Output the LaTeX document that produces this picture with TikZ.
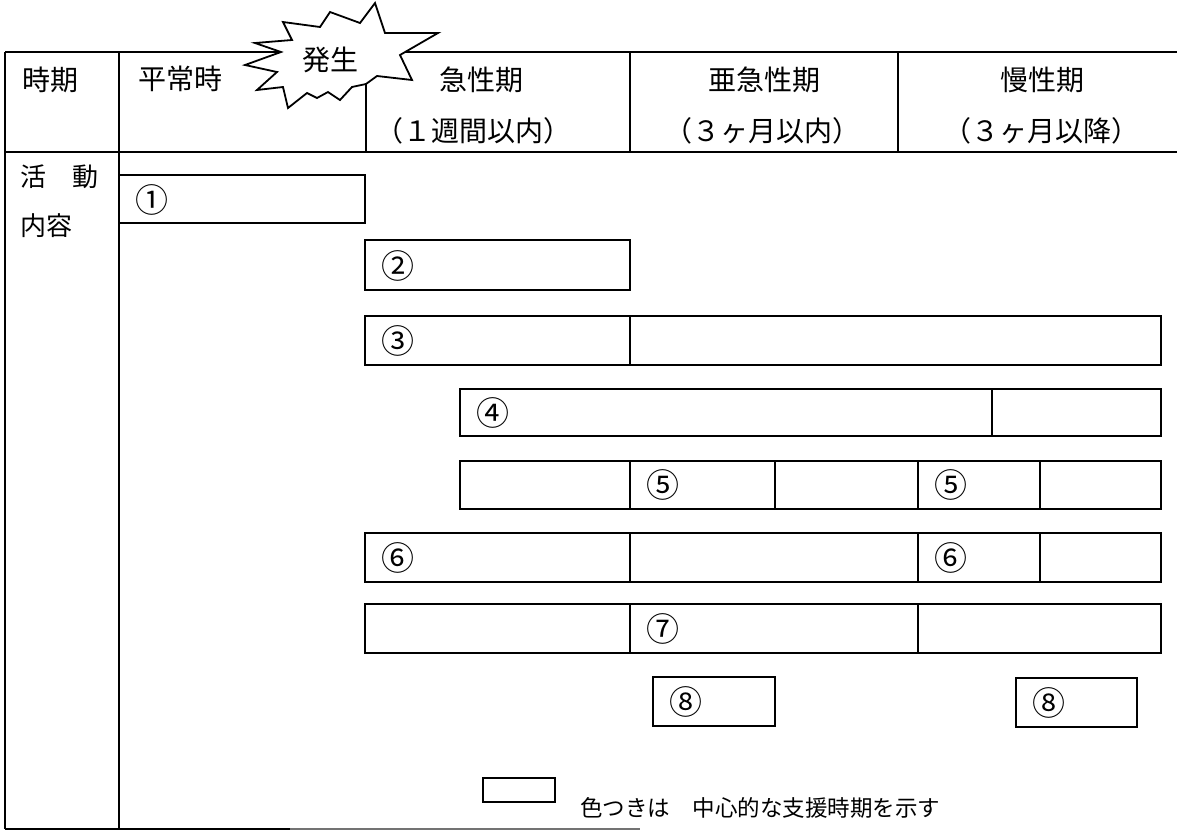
\documentclass[tikz,border=0pt]{standalone}
\usepackage{fontspec}
\setmainfont{Noto Sans CJK JP}
\tikzset{
  seg/.style={draw, line width=1.8pt, inner sep=0pt, outer sep=0pt, anchor=north west},
  num/.style={inner sep=0pt, anchor=west, font=\fontsize{33}{36}\selectfont},
  head/.style={inner sep=0pt, font=\fontsize{28}{32}\selectfont},
  rule/.style={line width=2pt},
}
\newcommand{\segbox}[5]{\node[seg, minimum width={#4-#2}, minimum height={#5-#3}] (#1) at (#2,#3) {};}
\begin{document}
\begin{tikzpicture}[x=1pt,y=-1pt]
\useasboundingbox (0,0) rectangle (1177,831);
% table frame
\draw[rule] (5,52) -- (1177,52);
\draw[rule] (5,152) -- (1177,152);
\draw[rule] (5,52) -- (5,829);
\draw[rule] (119,52) -- (119,829);
\draw[rule] (366,52) -- (366,152);
\draw[rule] (630,52) -- (630,152);
\draw[rule] (898,52) -- (898,152);
\draw[rule] (5,829) -- (290,829);
\draw[line width=1.2pt, black!55] (290,829) -- (640,829);
% starburst
\draw[line width=1.8pt, fill=white, line join=miter]
 (375,3) -- (385,33) -- (438,33) -- (400,55) -- (412,80) -- (377,76) -- (366,84) -- (352,87)
 -- (340,100) -- (328,92) -- (317,98) -- (307,93) -- (288,108) -- (283,87) -- (257,90)
 -- (277,72) -- (245,65) -- (281,52) -- (255,43) -- (292,40) -- (283,22) -- (320,27)
 -- (330,12) -- (360,23) -- cycle;
\node[head] (hassei) at (330,60) {発生};
% header texts
\node[head] (jiki) at (50,80) {時期};
\node[head] (heijo) at (180,79) {平常時};
\node[head] (kyusei) at (481,80) {急性期};
\node[head] (kyuseisub) at (473,131) {（１週間以内）};
\node[head] (akyusei) at (764,80) {亜急性期};
\node[head] (akyuseisub) at (762,131) {（３ヶ月以内）};
\node[head] (mansei) at (1042,80) {慢性期};
\node[head] (manseisub) at (1041,131) {（３ヶ月以降）};
\node[head, anchor=west, font=\fontsize{26}{30}\selectfont] (katsudo) at (20,177) {活　動};
\node[head, anchor=west, font=\fontsize{26}{30}\selectfont] (naiyo) at (20,226) {内容};
% row 1
\segbox{r1a}{119}{175}{365}{223}
\node[num] (n1) at (135,200) {①};
% row 2
\segbox{r2a}{365}{240}{630}{290}
\node[num] (n2) at (381,266) {②};
% row 3
\segbox{r3a}{365}{316}{630}{365}
\segbox{r3b}{630}{316}{1161}{365}
\node[num] (n3) at (381,341) {③};
% row 4
\segbox{r4a}{460}{389}{992}{436}
\segbox{r4b}{992}{389}{1161}{436}
\node[num] (n4) at (476,413) {④};
% row 5
\segbox{r5a}{460}{461}{630}{509}
\segbox{r5b}{630}{461}{775}{509}
\segbox{r5c}{775}{461}{918}{509}
\segbox{r5d}{918}{461}{1040}{509}
\segbox{r5e}{1040}{461}{1161}{509}
\node[num] (n5a) at (646,485) {⑤};
\node[num] (n5b) at (934,485) {⑤};
% row 6
\segbox{r6a}{365}{533}{630}{582}
\segbox{r6b}{630}{533}{918}{582}
\segbox{r6c}{918}{533}{1040}{582}
\segbox{r6d}{1040}{533}{1161}{582}
\node[num] (n6a) at (381,558) {⑥};
\node[num] (n6b) at (934,558) {⑥};
% row 7
\segbox{r7a}{365}{604}{630}{653}
\segbox{r7b}{630}{604}{918}{653}
\segbox{r7c}{918}{604}{1161}{653}
\node[num] (n7) at (646,629) {⑦};
% row 8
\segbox{r8a}{653}{677}{775}{726}
\segbox{r8b}{1016}{678}{1137}{727}
\node[num] (n8a) at (669,702) {⑧};
\node[num] (n8b) at (1032,703) {⑧};
% legend
\segbox{leg}{483}{778}{555}{802}
\node[inner sep=0pt, anchor=west, font=\fontsize{22.5}{26}\selectfont] (legtext) at (580,808) {色つきは　中心的な支援時期を示す};
\end{tikzpicture}
\end{document}
